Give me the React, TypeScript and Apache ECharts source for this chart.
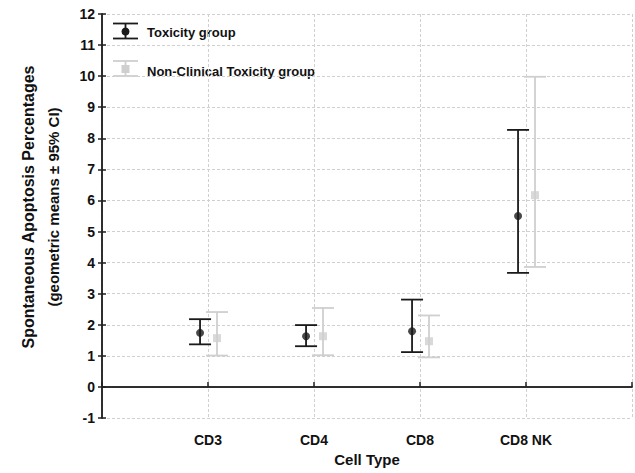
import React, { useEffect, useRef } from "react";
import * as echarts from "echarts";

const categories = ["CD3", "CD4", "CD8", "CD8 NK"];
const toxMean = [1.74, 1.63, 1.79, 5.5];
const toxLow = [1.37, 1.31, 1.12, 3.67];
const toxHigh = [2.18, 1.99, 2.81, 8.27];
const nonMean = [1.57, 1.63, 1.47, 6.17];
const nonLow = [1.01, 1.02, 0.95, 3.86];
const nonHigh = [2.41, 2.54, 2.3, 9.98];
const yTicks = { min: -1, max: 12, interval: 1 };
const seriesNames = ["Toxicity group", "Non-Clinical Toxicity group"];

const FONT = "'Liberation Sans', Arial, sans-serif";
const BLACK = "#1a1a1a";
const GRAY = "#cfcfcf";
const TOX_OFF = -0.075;
const NON_OFF = 0.085;

function errorBarRender(color: string) {
  return (params: any, api: any) => {
    const x = api.value(0);
    const lo = api.value(1);
    const hi = api.value(2);
    const pHi = api.coord([x, hi]);
    const pLo = api.coord([x, lo]);
    const hw = 11;
    const style = { stroke: color, lineWidth: 1.8 };
    return {
      type: "group",
      children: [
        { type: "line", shape: { x1: pHi[0], y1: pHi[1], x2: pLo[0], y2: pLo[1] }, style },
        { type: "line", shape: { x1: pHi[0] - hw, y1: pHi[1], x2: pHi[0] + hw, y2: pHi[1] }, style },
        { type: "line", shape: { x1: pLo[0] - hw, y1: pLo[1], x2: pLo[0] + hw, y2: pLo[1] }, style },
      ],
    };
  };
}

export default function App() {
  const ref = useRef<HTMLDivElement>(null);
  useEffect(() => {
    if (!ref.current) return;
    const chart = echarts.init(ref.current, undefined, { renderer: "svg" });
    const toxBars = categories.map((_, i) => [i + 1 + TOX_OFF, toxLow[i], toxHigh[i]]);
    const nonBars = categories.map((_, i) => [i + 1 + NON_OFF, nonLow[i], nonHigh[i]]);
    const toxPts = categories.map((_, i) => [i + 1 + TOX_OFF, toxMean[i]]);
    const nonPts = categories.map((_, i) => [i + 1 + NON_OFF, nonMean[i]]);
    const axisLine = { show: true, lineStyle: { color: "#222", width: 1.5 } };
    const splitLine = { show: true, lineStyle: { color: "#d0d0d0", type: [3, 2], width: 1 } };
    const tick = { show: true, inside: true, length: 4, lineStyle: { color: "#222", width: 1.5 } };
    chart.setOption({
      animation: false,
      backgroundColor: "#fff",
      textStyle: { fontFamily: FONT },
      grid: { left: 102, right: 3, top: 14, bottom: 55 },
      xAxis: [
        {
          type: "value",
          min: 0,
          max: 5,
          interval: 1,
          axisLine,
          axisTick: { ...tick, length: 5 },
          axisLabel: {
            formatter: (v: number) => categories[v - 1] ?? "",
            fontFamily: FONT,
            fontWeight: "bold",
            fontSize: 14,
            color: "#111",
            margin: 15,
          },
          splitLine,
          name: "Cell Type",
          nameLocation: "middle",
          nameGap: 33,
          nameTextStyle: { fontFamily: FONT, fontWeight: "bold", fontSize: 15, color: "#111" },
        },
        {
          type: "value",
          position: "top",
          min: 0,
          max: 5,
          interval: 1,
          axisLine,
          axisTick: { show: false },
          axisLabel: { show: false },
          splitLine: { show: false },
        },
      ],
      yAxis: [
        {
          type: "value",
          ...yTicks,
          axisLine,
          axisTick: tick,
          axisLabel: { fontFamily: FONT, fontWeight: "bold", fontSize: 14, color: "#111", margin: 7 },
          splitLine,
        },
        {
          type: "value",
          position: "right",
          ...yTicks,
          axisLine,
          axisTick: tick,
          axisLabel: { show: false },
          splitLine: { show: false },
        },
      ],
      series: [
        {
          name: seriesNames[1] + " CI",
          type: "custom",
          renderItem: errorBarRender(GRAY),
          encode: { x: 0, y: [1, 2] },
          data: nonBars,
          z: 2,
        },
        {
          name: seriesNames[0] + " CI",
          type: "custom",
          renderItem: errorBarRender(BLACK),
          encode: { x: 0, y: [1, 2] },
          data: toxBars,
          z: 3,
        },
        {
          name: seriesNames[1],
          type: "scatter",
          symbol: "rect",
          symbolSize: 8,
          itemStyle: { color: GRAY },
          data: nonPts,
          z: 4,
        },
        {
          name: seriesNames[0],
          type: "scatter",
          symbol: "circle",
          symbolSize: 8,
          itemStyle: { color: BLACK },
          data: toxPts,
          z: 5,
        },
      ],
      graphic: [
        { type: "line", shape: { x1: 125.5, y1: 23.5, x2: 125.5, y2: 38.5 }, style: { stroke: BLACK, lineWidth: 1.8 } },
        { type: "line", shape: { x1: 113, y1: 23.5, x2: 138, y2: 23.5 }, style: { stroke: BLACK, lineWidth: 1.8 } },
        { type: "line", shape: { x1: 113, y1: 38.5, x2: 138, y2: 38.5 }, style: { stroke: BLACK, lineWidth: 1.8 } },
        { type: "circle", shape: { cx: 125.5, cy: 31.5, r: 4 }, style: { fill: BLACK } },
        {
          type: "text",
          x: 147,
          y: 32,
          style: { text: seriesNames[0], font: `bold 13px ${FONT}`, fill: "#111", verticalAlign: "middle" },
        },
        { type: "line", shape: { x1: 125.5, y1: 61, x2: 125.5, y2: 76 }, style: { stroke: GRAY, lineWidth: 1.8 } },
        { type: "line", shape: { x1: 113, y1: 61, x2: 138, y2: 61 }, style: { stroke: GRAY, lineWidth: 1.8 } },
        { type: "line", shape: { x1: 113, y1: 76, x2: 138, y2: 76 }, style: { stroke: GRAY, lineWidth: 1.8 } },
        { type: "rect", shape: { x: 121.5, y: 65, width: 8, height: 8 }, style: { fill: GRAY } },
        {
          type: "text",
          x: 147,
          y: 71,
          style: { text: seriesNames[1], font: `bold 13px ${FONT}`, fill: "#111", verticalAlign: "middle" },
        },
        {
          type: "text",
          x: 28,
          y: 207,
          rotation: Math.PI / 2,
          style: {
            text: "Spontaneous Apoptosis Percentages",
            font: `bold 16px ${FONT}`,
            fill: "#111",
            align: "center",
            verticalAlign: "middle",
          },
        },
        {
          type: "text",
          x: 53,
          y: 207,
          rotation: Math.PI / 2,
          style: {
            text: "(geometric means ± 95% CI)",
            font: `bold 15px ${FONT}`,
            fill: "#111",
            align: "center",
            verticalAlign: "middle",
          },
        },
      ],
    });
    return () => chart.dispose();
  }, []);
  return (
    <div
      ref={ref}
      style={{ position: "fixed", left: 0, top: 0, width: 635, height: 473, background: "#fff" }}
    />
  );
}
